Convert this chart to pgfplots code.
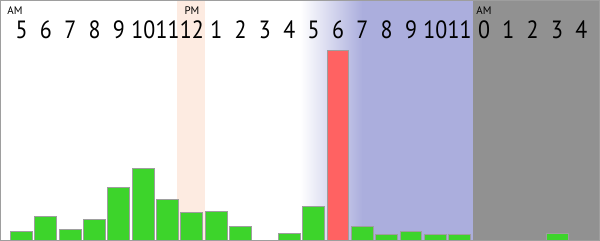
\documentclass[border=0pt]{standalone}
\usepackage{fontspec}
\setmainfont{PT Sans}
\newfontfamily\hourfont{PT Sans}[FakeStretch=0.88]
\usepackage{pgfplots}
\pgfplotsset{compat=1.18}

\definecolor{barGreen}{HTML}{3DD42B}
\definecolor{barRed}{HTML}{FF6262}
\definecolor{nightBlue}{HTML}{ABAEDD}
\definecolor{lateGray}{HTML}{919191}
\definecolor{noonTint}{HTML}{FDEBE1}
\definecolor{edgeGray}{HTML}{9E9E9E}

\begin{document}
\begin{tikzpicture}
\begin{axis}[
  scale only axis, width=600pt, height=240pt,
  xmin=-0.861, xmax=23.74, ymin=0, ymax=240,
  axis on top,
  axis line style={draw=edgeGray, line width=1.2pt},
  xtick={0,...,23},
  xticklabels={5,6,7,8,9,10,11,12,1,2,3,4,5,6,7,8,9,10,11,0,1,2,3,4},
  xticklabel pos=upper,
  major tick length=0pt,
  ytick=\empty,
  xticklabel style={anchor=center, yshift=-29pt, inner sep=0pt,
                    font=\hourfont\fontsize{25}{25}\selectfont},
  /pgf/number format/assume math mode=true,
]
% time-of-day backgrounds
\addplot[draw=none, fill=noonTint] coordinates {(6.38,240) (7.52,240)} \closedcycle;
\addplot[draw=none, shading=axis, left color=white, right color=nightBlue, shading angle=90]
  coordinates {(11.45,240) (14,240)} \closedcycle;
\addplot[draw=none, fill=nightBlue] coordinates {(13.98,240) (18.53,240)} \closedcycle;
\addplot[draw=none, fill=lateGray] coordinates {(18.53,240) (23.8,240)} \closedcycle;

% hourly counts
\addplot[ybar, bar shift=0pt, bar width=22pt, fill=barGreen, draw=edgeGray, line width=1pt]
  coordinates {(0,9) (1,23.7) (2,11) (3,21) (4,53) (5,71.7) (6,41) (7,28) (8,29)
               (9,13.7) (11,7) (12,34) (14,13.7) (15,5.7) (16,9) (17,5.7) (18,5.7)
               (19,0) (22,6.7) (23,0)};
\addplot[ybar, bar shift=0pt, bar width=22pt, fill=barRed, draw=edgeGray, line width=1pt]
  coordinates {(13,190)};

% AM / PM markers
\node[font=\fontsize{11}{11}\selectfont, inner sep=0pt] at (axis cs:-0.27,229.5) {AM};
\node[font=\fontsize{11}{11}\selectfont, inner sep=0pt] at (axis cs:7,229.5) {PM};
\node[font=\fontsize{11}{11}\selectfont, inner sep=0pt] at (axis cs:19,229.5) {AM};
\end{axis}
\end{tikzpicture}
\end{document}
